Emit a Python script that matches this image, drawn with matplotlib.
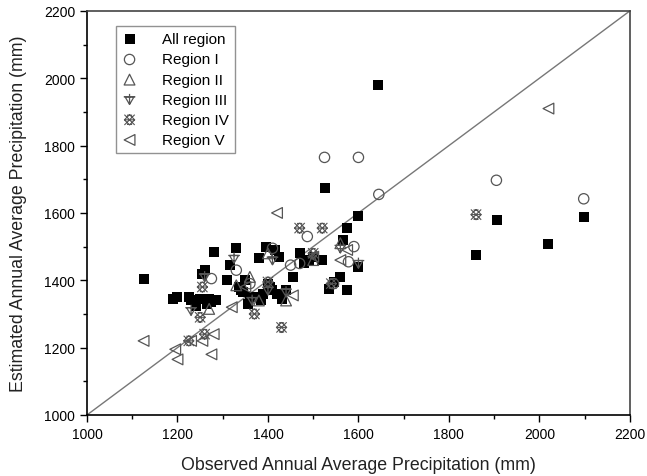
import numpy as np
import matplotlib.pyplot as plt
from matplotlib.path import Path

plt.rcParams['font.family'] = ['Liberation Sans', 'DejaVu Sans']

# observed (x) vs estimated (y), mm
all_x = [1125, 1190, 1200, 1225, 1230, 1240, 1250, 1255, 1260, 1265, 1270, 1275, 1280, 1285,
         1310, 1315, 1330, 1335, 1340, 1345, 1350, 1355, 1360, 1370, 1380, 1385, 1390, 1395,
         1400, 1405, 1410, 1415, 1420, 1425, 1430, 1440, 1455, 1470, 1480, 1490, 1500, 1520,
         1525, 1535, 1545, 1560, 1565, 1575, 1575, 1600, 1600, 1643, 1860, 1907, 2018, 2098]
all_y = [1403, 1345, 1350, 1350, 1340, 1325, 1345, 1420, 1430, 1330, 1345, 1335, 1485, 1340,
         1400, 1445, 1495, 1380, 1370, 1365, 1400, 1330, 1350, 1350, 1465, 1340, 1360, 1500,
         1390, 1380, 1370, 1490, 1360, 1470, 1345, 1370, 1410, 1480, 1450, 1460, 1470, 1460,
         1675, 1375, 1395, 1410, 1520, 1370, 1555, 1590, 1440, 1980, 1475, 1580, 1508, 1588]

r1_x = [1525, 1600, 1645, 1905, 2098, 1487, 1578, 1590, 1410, 1330, 1275, 1360, 1545, 1450, 1470]
r1_y = [1765, 1765, 1655, 1697, 1642, 1530, 1455, 1500, 1495, 1430, 1405, 1390, 1390, 1445, 1450]

r2_x = [1560, 1500, 1270, 1380, 1360, 1400, 1440, 1330]
r2_y = [1510, 1460, 1315, 1340, 1410, 1480, 1340, 1385]

r3_x = [1260, 1230, 1325, 1440, 1560, 1600, 1410, 1400, 1365]
r3_y = [1410, 1310, 1465, 1365, 1495, 1450, 1460, 1370, 1340]

r4_x = [1470, 1520, 1860, 1430, 1370, 1250, 1225, 1260, 1255, 1500, 1540, 1400]
r4_y = [1555, 1555, 1595, 1260, 1300, 1290, 1220, 1240, 1380, 1480, 1390, 1395]

r5_x = [2020, 1125, 1195, 1200, 1230, 1255, 1275, 1280, 1320, 1420, 1455, 1575, 1560, 1500, 1350]
r5_y = [1910, 1220, 1195, 1165, 1220, 1220, 1180, 1240, 1320, 1600, 1355, 1490, 1460, 1470, 1380]

# triangle down with a cross on top
tri_cross = Path(
    [(-0.85, 0.55), (0.85, 0.55), (0, -0.9), (-0.85, 0.55),
     (-1.1, 0.55), (1.1, 0.55),
     (0, 1.1), (0, -0.9)],
    [Path.MOVETO, Path.LINETO, Path.LINETO, Path.CLOSEPOLY,
     Path.MOVETO, Path.LINETO,
     Path.MOVETO, Path.LINETO])

# cross-hatched blob for region IV
hatch_star = Path(
    [(-1, -1), (1, 1), (-1, 1), (1, -1),
     (-1, 0), (1, 0),
     (0, 1), (1, 0), (0, -1), (-1, 0), (0, 1),
     (-0.5, 0.9), (0.5, 0.9), (-0.5, -0.9), (0.5, -0.9)],
    [Path.MOVETO, Path.LINETO, Path.MOVETO, Path.LINETO,
     Path.MOVETO, Path.LINETO,
     Path.MOVETO, Path.LINETO, Path.LINETO, Path.LINETO, Path.LINETO,
     Path.MOVETO, Path.LINETO, Path.MOVETO, Path.LINETO])

gray = '#555555'

fig = plt.figure(figsize=(6.47, 4.77), dpi=100)
ax = fig.add_axes([0.1345, 0.128, 0.839, 0.847])

ax.plot([1000, 2200], [1000, 2200], color='#777777', lw=1.0, zorder=1)

ax.scatter(all_x, all_y, marker='s', s=46, color='black', lw=0, label='All region', zorder=3)
ax.scatter(r1_x, r1_y, marker='o', s=55, facecolors='none', edgecolors=gray, lw=0.9,
           label='Region I', zorder=3)
ax.scatter(r2_x, r2_y, marker='^', s=60, facecolors='none', edgecolors=gray, lw=0.9,
           label='Region II', zorder=3)
ax.scatter(r3_x, r3_y, marker=tri_cross, s=70, facecolors='none', edgecolors=gray, lw=0.9,
           label='Region III', zorder=3)
ax.scatter(r4_x, r4_y, marker=hatch_star, s=55, facecolors='none', edgecolors=gray, lw=0.8,
           label='Region IV', zorder=3)
ax.scatter(r5_x, r5_y, marker='<', s=60, facecolors='none', edgecolors=gray, lw=0.9,
           label='Region V', zorder=3)

ax.set_xlim(1000, 2200)
ax.set_ylim(1000, 2200)
ax.set_xticks(np.arange(1000, 2201, 200))
ax.set_yticks(np.arange(1000, 2201, 200))
ax.set_xticks(np.arange(1100, 2200, 200), minor=True)
ax.set_yticks(np.arange(1100, 2200, 200), minor=True)
ax.tick_params(which='major', direction='out', length=5, width=1, labelsize=10, colors='black')
ax.tick_params(which='minor', direction='out', length=3, width=1)
for s in ax.spines.values():
    s.set_linewidth(1.2)
ax.spines['top'].set_color('#444444')
ax.spines['right'].set_color('#444444')

ax.set_xlabel('Observed Annual Average Precipitation (mm)', fontsize=12.8, color='#222222', labelpad=11)
ax.set_ylabel('Estimated Annual Average Precipitation (mm)', fontsize=12.8, color='#222222', labelpad=12)

leg = ax.legend(loc='upper left', bbox_to_anchor=(0.053, 0.962), fontsize=11, frameon=True,
                fancybox=False, edgecolor='#777777', borderpad=0.4, labelspacing=0.4,
                handlelength=1.0, handletextpad=1.6, borderaxespad=0, scatterpoints=1)
leg.get_frame().set_linewidth(1.0)

plt.savefig('out.png', dpi=100)
